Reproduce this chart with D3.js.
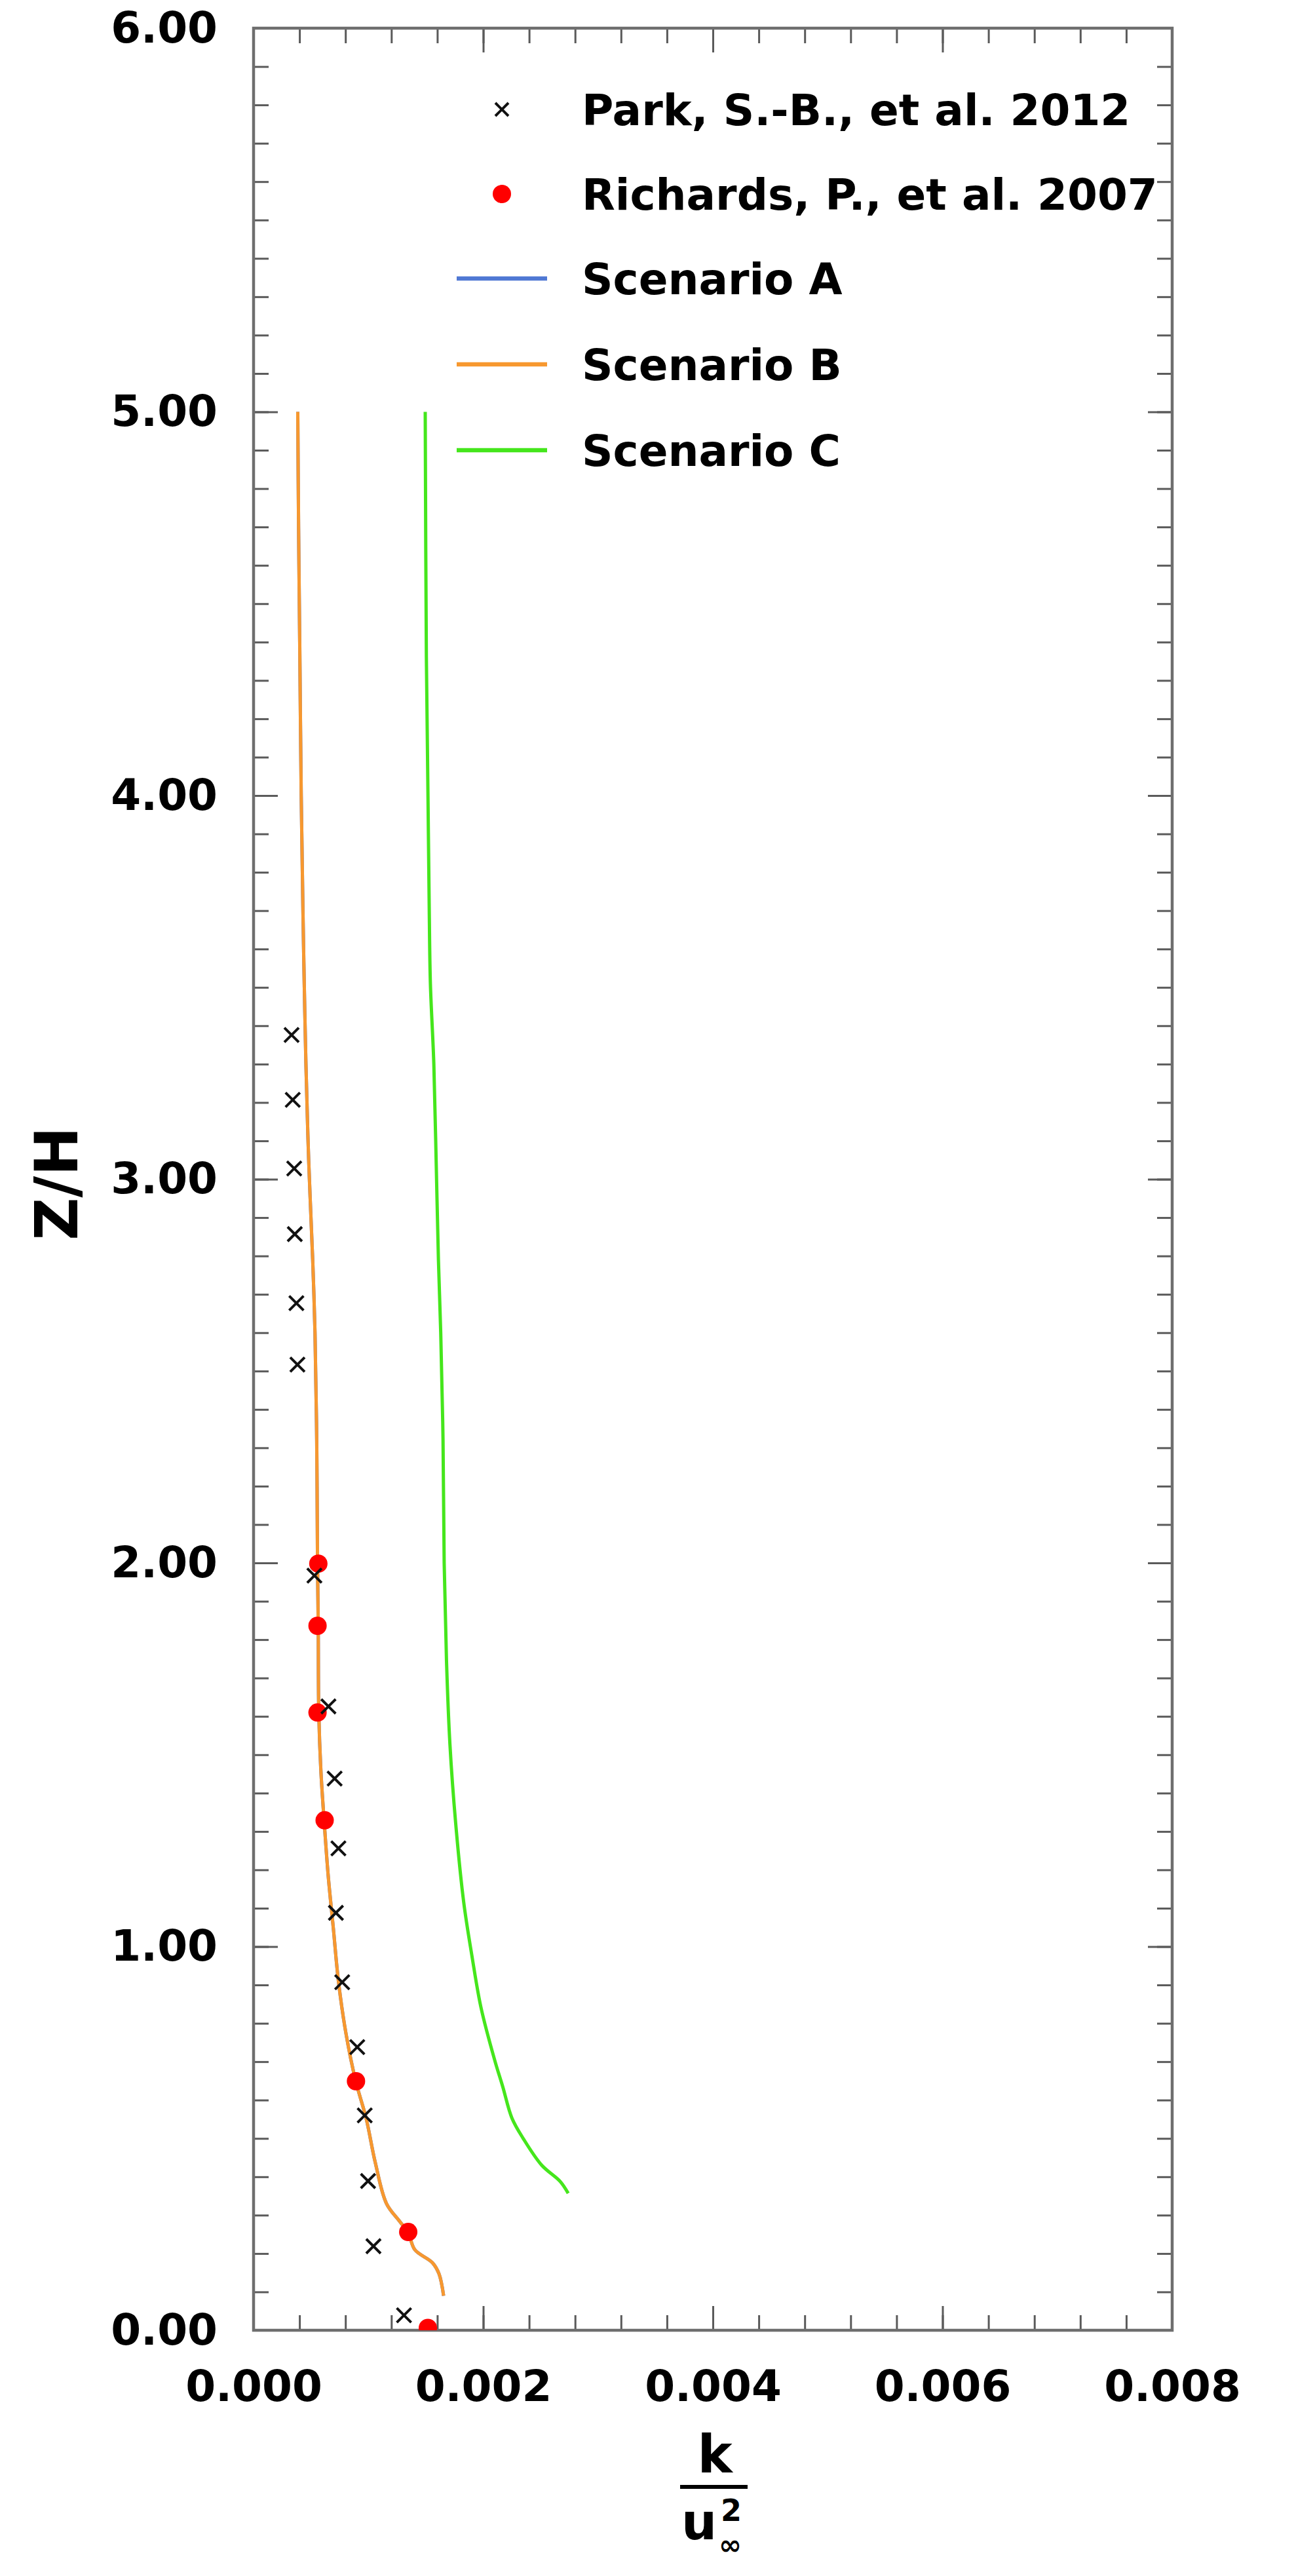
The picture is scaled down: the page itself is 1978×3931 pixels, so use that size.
<!DOCTYPE html>
<html lang="en">
<head>
<meta charset="utf-8">
<title>k / u_inf^2 profile</title>
<script src="https://d3js.org/d3.v7.min.js"></script>
<style>
  body { margin: 0; background: #fff; }
  text { font-family: "DejaVu Sans", sans-serif; font-weight: bold; fill: #000; }
</style>
</head>
<body>
<script>
// data: [k/u^2, Z/H]
var parkData = [
  [0.000331, 3.376], [0.000341, 3.207], [0.000354, 3.028], [0.000359, 2.857],
  [0.000373, 2.677], [0.000382, 2.517], [0.000530, 1.967], [0.000652, 1.626],
  [0.000706, 1.438], [0.000739, 1.256], [0.000717, 1.088], [0.000772, 0.907],
  [0.000903, 0.738], [0.000968, 0.560], [0.000997, 0.389], [0.001044, 0.219],
  [0.001310, 0.039]
];
var richardsData = [
  [0.000564, 1.998], [0.000557, 1.836], [0.000557, 1.610], [0.000619, 1.329],
  [0.000892, 0.649], [0.001347, 0.256], [0.001518, 0.006]
];
var scenarioB = [
  [0.000385, 5.00], [0.000392, 4.70], [0.000402, 4.40], [0.000415, 4.00],
  [0.000430, 3.70], [0.000442, 3.50], [0.000456, 3.30], [0.000480, 3.05],
  [0.000515, 2.79], [0.000535, 2.60], [0.000550, 2.32], [0.000557, 2.00],
  [0.000563, 1.84], [0.000568, 1.61], [0.000586, 1.46], [0.000614, 1.33],
  [0.000650, 1.185], [0.000695, 1.047], [0.000739, 0.910], [0.000805, 0.773],
  [0.000890, 0.649], [0.000980, 0.553], [0.001060, 0.437], [0.001158, 0.330],
  [0.001272, 0.284], [0.001347, 0.254], [0.001404, 0.210], [0.001558, 0.176],
  [0.001615, 0.147], [0.001655, 0.090]
];
// Scenario A is not visible in the picture: it lies under Scenario B
var scenarioA = scenarioB;
var scenarioC = [
  [0.001495, 5.00], [0.001505, 4.36], [0.001520, 3.97], [0.001530, 3.70],
  [0.001540, 3.51], [0.001570, 3.30], [0.001590, 3.05], [0.001610, 2.79],
  [0.001630, 2.60], [0.001650, 2.32], [0.001660, 2.00], [0.001680, 1.747],
  [0.001710, 1.528], [0.001760, 1.322], [0.001830, 1.116], [0.001900, 0.979],
  [0.001980, 0.842], [0.002100, 0.704], [0.002170, 0.635], [0.002250, 0.553],
  [0.002350, 0.499], [0.002510, 0.430], [0.002670, 0.388], [0.002740, 0.357]
];

var xMajor = [0, 0.002, 0.004, 0.006, 0.008];
var yMajor = [0, 1, 2, 3, 4, 5, 6];
var legendNames = ["Park, S.-B., et al. 2012", "Richards, P., et al. 2007",
                   "Scenario A", "Scenario B", "Scenario C"];

var width = 1978, height = 3931;
var margin = {top: 43, right: 189, bottom: 375, left: 387};
var w = width - margin.left - margin.right,
    h = height - margin.top - margin.bottom;

var svg = d3.select("body").append("svg")
    .attr("width", width)
    .attr("height", height);

var g = svg.append("g")
    .attr("transform", "translate(" + margin.left + "," + margin.top + ")");

var x = d3.scaleLinear().domain([0, 0.008]).range([0, w]);
var y = d3.scaleLinear().domain([0, 6]).range([h, 0]);

var xMinor = d3.range(0, 0.00801, 0.0004);
var yMinor = d3.range(0, 6.01, 0.1);

function styleAxis(sel) {
  sel.select(".domain").remove();
  sel.selectAll(".tick line").attr("stroke", "#5a5a5a").attr("stroke-width", 3);
  sel.selectAll("text").attr("font-size", 66).attr("fill", "#000")
     .style("font-family", "'DejaVu Sans', sans-serif").style("font-weight", "bold");
}

// minor ticks on all four sides, pointing inward
g.append("g").attr("transform", "translate(0," + h + ")")
  .call(d3.axisBottom(x).tickValues(xMinor).tickSize(-23).tickFormat(""))
  .call(styleAxis);
g.append("g")
  .call(d3.axisTop(x).tickValues(xMinor).tickSize(-23).tickFormat(""))
  .call(styleAxis);
g.append("g")
  .call(d3.axisLeft(y).tickValues(yMinor).tickSize(-23).tickFormat(""))
  .call(styleAxis);
g.append("g").attr("transform", "translate(" + w + ",0)")
  .call(d3.axisRight(y).tickValues(yMinor).tickSize(-23).tickFormat(""))
  .call(styleAxis);

// major ticks + labels
g.append("g").attr("transform", "translate(0," + h + ")")
  .call(d3.axisBottom(x).tickValues(xMajor).tickSize(-37).tickPadding(61)
        .tickFormat(d3.format(".3f")))
  .call(styleAxis);
g.append("g")
  .call(d3.axisTop(x).tickValues(xMajor).tickSize(-37).tickFormat(""))
  .call(styleAxis);
g.append("g")
  .call(d3.axisLeft(y).tickValues(yMajor).tickSize(-37).tickPadding(55)
        .tickFormat(d3.format(".2f")))
  .call(styleAxis);
g.append("g").attr("transform", "translate(" + w + ",0)")
  .call(d3.axisRight(y).tickValues(yMajor).tickSize(-37).tickFormat(""))
  .call(styleAxis);

// frame
g.append("rect")
  .attr("width", w).attr("height", h)
  .attr("fill", "none").attr("stroke", "#6e6e6e").attr("stroke-width", 4.5);

// data, clipped to the frame
svg.append("clipPath").attr("id", "clip")
  .append("rect").attr("width", w).attr("height", h);
var plot = g.append("g").attr("clip-path", "url(#clip)");

var line = d3.line()
    .x(function(d) { return x(d[0]); })
    .y(function(d) { return y(d[1]); })
    .curve(d3.curveCatmullRom);

var series = [
  {data: scenarioA, color: "#4f78d4"},
  {data: scenarioB, color: "#f7982f"},
  {data: scenarioC, color: "#45e61c"}
];
plot.selectAll(".series").data(series).enter()
  .append("path")
  .attr("class", "series")
  .attr("d", function(d) { return line(d.data); })
  .attr("fill", "none")
  .attr("stroke", function(d) { return d.color; })
  .attr("stroke-width", 5);

function cross(sel, s) {
  sel.append("path")
    .attr("d", "M" + (-s) + "," + (-s) + "L" + s + "," + s + "M" + (-s) + "," + s + "L" + s + "," + (-s))
    .attr("stroke", "#111").attr("stroke-width", 4).attr("fill", "none");
}

plot.selectAll(".rich").data(richardsData).enter()
  .append("circle")
  .attr("class", "rich")
  .attr("cx", function(d) { return x(d[0]); })
  .attr("cy", function(d) { return y(d[1]); })
  .attr("r", 14)
  .attr("fill", "#ff0000");

plot.selectAll(".park").data(parkData).enter()
  .append("g")
  .attr("class", "park")
  .attr("transform", function(d) { return "translate(" + x(d[0]) + "," + y(d[1]) + ")"; })
  .each(function() { cross(d3.select(this), 11); });

// legend
var legend = svg.append("g");
var rowY = [167, 296, 425, 556, 687];
legendNames.forEach(function(name, i) {
  var row = legend.append("g").attr("transform", "translate(0," + rowY[i] + ")");
  if (i === 0) {
    row.append("g").attr("transform", "translate(766,0)").call(cross, 10);
  } else if (i === 1) {
    row.append("circle").attr("cx", 766).attr("r", 14).attr("fill", "#ff0000");
  } else {
    row.append("line").attr("x1", 697).attr("x2", 835)
      .attr("stroke", series[i - 2].color).attr("stroke-width", 6.5);
  }
  row.append("text").attr("x", 888).attr("dy", "0.36em")
    .attr("font-size", 66).text(name);
});

// y title
svg.append("text")
  .attr("transform", "translate(118,1806) rotate(-90)")
  .attr("text-anchor", "middle")
  .attr("font-size", 90)
  .text("Z/H");

// x title: k over u_inf squared
var cx = margin.left + w / 2;
svg.append("text").attr("x", cx + 3).attr("y", 3773)
  .attr("text-anchor", "middle").attr("font-size", 80).text("k");
svg.append("line").attr("x1", cx - 50).attr("x2", cx + 53)
  .attr("y1", 3795).attr("y2", 3795)
  .attr("stroke", "#000").attr("stroke-width", 6);
svg.append("text").attr("x", cx - 21).attr("y", 3875)
  .attr("text-anchor", "middle").attr("font-size", 76).text("u");
svg.append("text").attr("x", cx + 12).attr("y", 3847)
  .attr("font-size", 46).text("2");
svg.append("text").attr("x", cx + 9).attr("y", 3898)
  .attr("font-size", 42).text("\u221e");
</script>
</body>
</html>
